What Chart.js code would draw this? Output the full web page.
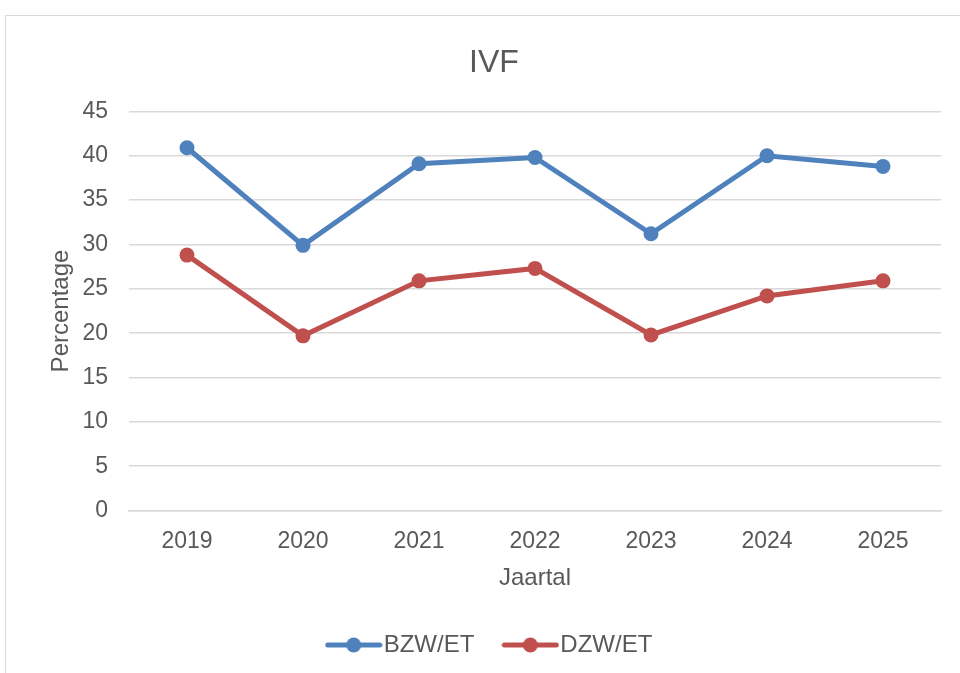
<!DOCTYPE html>
<html lang="nl">
<head>
  <meta charset="UTF-8" />
  <title>IVF</title>
  <script src="https://cdn.jsdelivr.net/npm/chart.js"></script>
  <style>
    html, body { margin: 0; padding: 0; background: #fff; overflow: hidden; }
    .frame {
      position: absolute; left: 5px; top: 15px;
      width: 980px; height: 700px;
      border: 1px solid #d9d9d9;
    }
    #ivfChart { position: absolute; left: 0; top: 0; }
  </style>
</head>
<body>
  <div class="frame"></div>
  <canvas id="ivfChart" width="960" height="673"></canvas>

<script>
const jaren = ['2019', '2020', '2021', '2022', '2023', '2024', '2025'];
const bzwEt = [40.9, 29.9, 39.1, 39.8, 31.2, 40.0, 38.8];
const dzwEt = [28.8, 19.7, 25.9, 27.3, 19.8, 24.2, 25.9];

const tekstKleur = '#595959';
const rasterKleur = '#d9d9d9';
const blauw = '#4f81bd';
const rood = '#c0504d';
const lettertype = '"Liberation Sans", Arial, sans-serif';

// legend icon: line with a dot, like in Excel
function legendIcon(kleur) {
  const c = document.createElement('canvas');
  c.width = 58; c.height = 16;
  const g = c.getContext('2d');
  g.strokeStyle = kleur;
  g.lineWidth = 5;
  g.lineCap = 'round';
  g.beginPath();
  g.moveTo(3, 8); g.lineTo(55, 8);
  g.stroke();
  g.fillStyle = kleur;
  g.beginPath();
  g.arc(29, 8, 7.5, 0, Math.PI * 2);
  g.fill();
  return c;
}
const iconen = [legendIcon(blauw), legendIcon(rood)];

const ctx = document.getElementById('ivfChart').getContext('2d');
new Chart(ctx, {
  type: 'line',
  data: {
    labels: jaren,
    datasets: [
      {
        label: 'BZW/ET',
        data: bzwEt,
        borderColor: blauw,
        backgroundColor: blauw,
        borderWidth: 5,
        pointRadius: 7.5,
        pointBorderWidth: 0,
        tension: 0
      },
      {
        label: 'DZW/ET',
        data: dzwEt,
        borderColor: rood,
        backgroundColor: rood,
        borderWidth: 5,
        pointRadius: 7.5,
        pointBorderWidth: 0,
        tension: 0
      }
    ]
  },
  options: {
    responsive: false,
    animation: false,
    layout: { padding: { left: 47, right: 19, top: 0, bottom: 6 } },
    plugins: {
      title: {
        display: true,
        text: 'IVF',
        color: tekstKleur,
        font: { size: 32, weight: 'normal', family: lettertype },
        padding: { top: 44, bottom: 29 }
      },
      legend: {
        position: 'bottom',
        labels: {
          color: tekstKleur,
          usePointStyle: true,
          pointStyleWidth: 36,
          padding: 38,
          font: { size: 24, family: lettertype },
          generateLabels(chart) {
            const items = Chart.defaults.plugins.legend.labels.generateLabels(chart);
            items.forEach((it, i) => { it.pointStyle = iconen[i]; });
            return items;
          }
        }
      },
      tooltip: { enabled: false }
    },
    scales: {
      x: {
        offset: true,
        grid: { display: false },
        border: { display: true, color: rasterKleur, width: 1.5 },
        ticks: {
          color: tekstKleur,
          padding: 9,
          font: { size: 23, family: lettertype }
        },
        title: {
          display: true,
          text: 'Jaartal',
          color: tekstKleur,
          padding: { top: 0, bottom: 2 },
          font: { size: 24, family: lettertype }
        }
      },
      y: {
        min: 0,
        max: 45,
        afterFit(scale) { scale.width = 82; },
        grid: { color: rasterKleur, lineWidth: 1.5, drawTicks: false },
        border: { display: false },
        ticks: {
          stepSize: 5,
          color: tekstKleur,
          padding: 21,
          font: { size: 23, family: lettertype }
        },
        title: {
          display: true,
          text: 'Percentage',
          color: tekstKleur,
          padding: { top: 0, bottom: 0 },
          font: { size: 24, family: lettertype }
        }
      }
    }
  }
});
</script>
</body>
</html>
